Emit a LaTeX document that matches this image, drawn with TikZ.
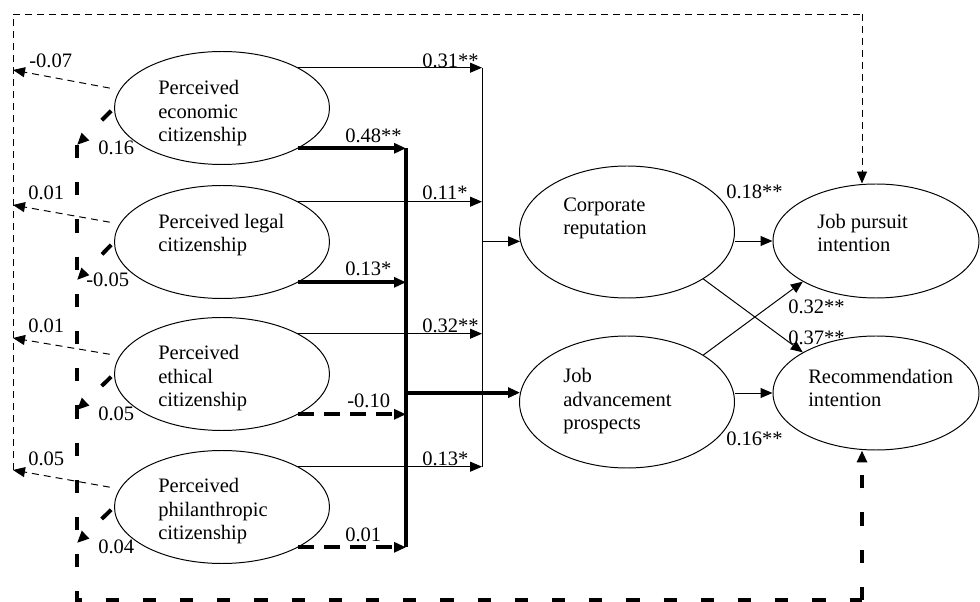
\documentclass[tikz,border=0pt]{standalone}
\usepackage{fontspec}
\setmainfont{Liberation Serif}
\usetikzlibrary{arrows.meta,shapes.geometric}

\begin{document}
\begin{tikzpicture}[x=1cm,y=1cm,
  every node/.style={font=\fontsize{14.6}{17}\selectfont,inner sep=0pt},
  latent/.style={draw,ellipse,line width=0.7pt},
  lefty/.style={latent,minimum width=5.375cm,minimum height=2.825cm},
  midy/.style={latent,minimum width=5.375cm,minimum height=3.3cm},
  righty/.style={latent,minimum width=5.15cm,minimum height=2.85cm},
  txt/.style={anchor=base west,align=left},
  lbl/.style={anchor=base west},
  arr/.style={-{Triangle[length=0.3cm,width=0.25cm]}},
  thinline/.style={line width=0.7pt},
  thinarr/.style={thinline,arr},
  thickline/.style={line width=2.8pt},
  thickarr/.style={thickline,arr},
  thindash/.style={line width=0.7pt,dash pattern=on 0.175cm off 0.125cm},
  thickdash/.style={line width=2.8pt,dash pattern=on 0.33cm off 0.6cm}]
\useasboundingbox (0,0) rectangle (24.5,-15.05);

% latent variables
\node[lefty] (eco) at (5.55,-2.7) {};
\node[lefty] (leg) at (5.55,-6.05) {};
\node[lefty] (eth) at (5.55,-9.35) {};
\node[lefty] (phi) at (5.55,-12.675) {};
\node[midy] (rep) at (15.675,-5.8) {};
\node[midy] (adv) at (15.675,-10.05) {};
\node[righty] (pur) at (21.9,-6.025) {};
\node[righty] (rec) at (21.9,-9.825) {};

% (base = last line)
\node[txt] (ecot) at (3.95,-3.55) {Perceived\\economic\\citizenship};
\node[txt] (legt) at (3.95,-6.3) {Perceived legal\\citizenship};
\node[txt] (etht) at (3.95,-10.175) {Perceived\\ethical\\citizenship};
\node[txt] (phit) at (3.95,-13.5) {Perceived\\philanthropic\\citizenship};
\node[txt] (rept) at (14.075,-5.875) {Corporate\\reputation};
\node[txt] (advt) at (14.075,-10.75) {Job\\advancement\\prospects};
\node[txt] (purt) at (20.425,-6.3) {Job pursuit\\intention};
\node[txt] (rect) at (20.2,-10.175) {Recommendation\\intention};

% free ends
\coordinate (tl) at (0.325,-0.35);
\coordinate (tr) at (21.55,-0.35);
\coordinate (ecoL) at (0.325,-1.75);
\coordinate (legL) at (0.325,-5.125);
\coordinate (ethL) at (0.325,-8.45);
\coordinate (phiL) at (0.325,-11.75);
\coordinate (ecoD) at (1.925,-3.625);
\coordinate (legD) at (1.925,-7.0);
\coordinate (ethD) at (1.925,-10.25);
\coordinate (phiD) at (1.925,-13.575);
\coordinate (bl) at (1.925,-15.0);
\coordinate (br) at (21.55,-15.0);
\coordinate (rj) at (12.05,0);
\coordinate (tj) at (10.15,0);

% thin dashed paths
\draw[thindash] (phiL) -- (tl) -- (tr);
\draw[thindash,arr] (tr) -- (tr |- pur.north);
\foreach \v in {eco,leg,eth,phi}
  \draw[thindash,arr,shorten <=0.25cm] (\v.170) -- (\v L);

% thick dashed paths
\foreach \v in {eco,leg,eth,phi}
  \draw[thickdash,arr,shorten <=0.1cm] (\v.west) -- (\v D);
\draw[thickdash] (ecoD) -- (bl) -- (br);
\draw[thickdash,arr] (br) -- (br |- rec.south);

% to corporate reputation
\foreach \v in {eco,leg,eth,phi}
  \draw[thinarr] (\v.north east) -- (\v.north east -| rj);
\draw[thinline] (eco.north east -| rj) -- (phi.north east -| rj);
\draw[thinarr] (rep.185 -| rj) -- (rep.185);

% to job advancement
\draw[thickarr] (eco.south east) -- (eco.south east -| tj);
\draw[thickarr] (leg.south east) -- (leg.south east -| tj);
\draw[thickdash,dash pattern=on 0.4cm off 0.25cm,arr] (eth.south east) -- (eth.south east -| tj);
\draw[thickdash,dash pattern=on 0.4cm off 0.25cm,arr] (phi.south east) -- (phi.south east -| tj);
\draw[thickline] (eco.south east -| tj) -- (phi.south east -| tj);
\draw[thickarr] (adv.175 -| tj) -- (adv.175);

% outcomes
\draw[thinarr] (pur.west -| rep.east) -- (pur.west);
\draw[thinarr] (rec.west -| adv.east) -- (rec.west);
\draw[thinarr] (rep.south east) -- (rec.north west);
\draw[thinarr] (adv.north east) -- (pur.south west);

% coefficients
\node[lbl] (c1) at (0.725,-1.7) {-0.07};
\node[lbl] (c2) at (0.7,-5.0) {0.01};
\node[lbl] (c3) at (0.7,-8.325) {0.01};
\node[lbl] (c4) at (0.7,-11.65) {0.05};
\node[lbl] (d1) at (2.45,-3.875) {0.16};
\node[lbl] (d2) at (2.15,-7.175) {-0.05};
\node[lbl] (d3) at (2.45,-10.525) {0.05};
\node[lbl] (d4) at (2.45,-13.85) {0.04};
\node[lbl] (r1) at (10.55,-1.7) {0.31**};
\node[lbl] (r2) at (10.55,-5.0) {0.11*};
\node[lbl] (r3) at (10.55,-8.325) {0.32**};
\node[lbl] (r4) at (10.55,-11.65) {0.13*};
\node[lbl] (a1) at (8.625,-3.575) {0.48**};
\node[lbl] (a2) at (8.625,-6.9) {0.13*};
\node[lbl] (a3) at (8.675,-10.2) {-0.10};
\node[lbl] (a4) at (8.625,-13.55) {0.01};
\node[lbl] (o1) at (18.15,-4.975) {0.18**};
\node[lbl] (o2) at (19.7,-7.85) {0.32**};
\node[lbl] (o3) at (19.7,-8.625) {0.37**};
\node[lbl] (o4) at (18.15,-11.15) {0.16**};
\end{tikzpicture}
\end{document}
